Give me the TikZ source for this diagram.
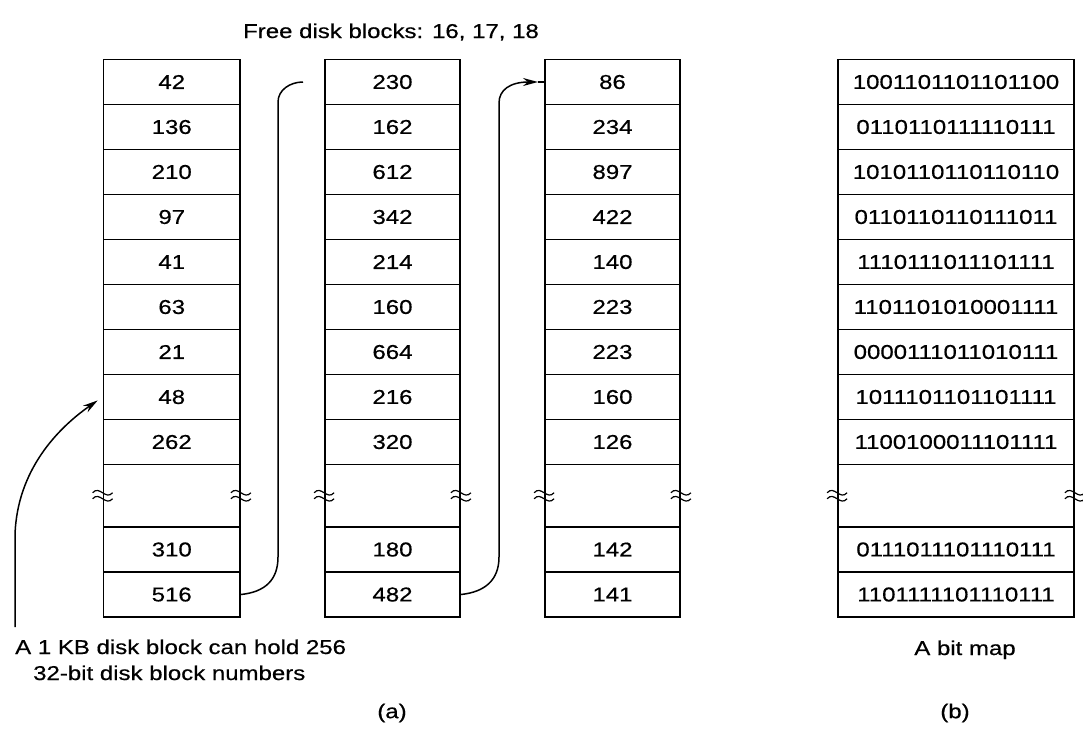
\documentclass[tikz,border=0pt]{standalone}
\usepackage{fontspec}
\setmainfont{Liberation Sans}[FakeStretch=1.2,FakeBold=0.5]
\usetikzlibrary{arrows.meta}
\begin{document}
\begin{tikzpicture}[x=1pt,y=-1pt,
  cell/.style={draw, line width=1.8pt, minimum height=45pt, inner sep=0pt, font=\fontsize{20}{24}\selectfont},
  lab/.style={inner sep=0pt, font=\fontsize{20}{24}\selectfont},
  link/.style={line width=1.5pt},
  tip/.style={-{Stealth[length=15pt,width=8pt]}},
  brk/.style={line width=1.2pt}]
\useasboundingbox (0,0) rectangle (1083,739);
% column a
\foreach \t [count=\i] in {42,136,210,97,41,63,21,48,262}
  \node[cell, minimum width=136.5pt] (a\i) at (171.75,{82+45*(\i-1)}) {\t};
\node[cell, minimum width=136.5pt, minimum height=62.5pt] (a10) at (171.75,495.75) {};
\node[cell, minimum width=136.5pt] (a11) at (171.75,549.5) {310};
\node[cell, minimum width=136.5pt] (a12) at (171.75,594.5) {516};
% column b
\foreach \t [count=\i] in {230,162,612,342,214,160,664,216,320}
  \node[cell, minimum width=135pt] (b\i) at (392.5,{82+45*(\i-1)}) {\t};
\node[cell, minimum width=135pt, minimum height=62.5pt] (b10) at (392.5,495.75) {};
\node[cell, minimum width=135pt] (b11) at (392.5,549.5) {180};
\node[cell, minimum width=135pt] (b12) at (392.5,594.5) {482};
% column c
\foreach \t [count=\i] in {86,234,897,422,140,223,223,160,126}
  \node[cell, minimum width=135pt] (c\i) at (612.5,{82+45*(\i-1)}) {\t};
\node[cell, minimum width=135pt, minimum height=62.5pt] (c10) at (612.5,495.75) {};
\node[cell, minimum width=135pt] (c11) at (612.5,549.5) {142};
\node[cell, minimum width=135pt] (c12) at (612.5,594.5) {141};
% column d (bit map)
\foreach \t [count=\i] in {1001101101101100,0110110111110111,1010110110110110,0110110110111011,1110111011101111,1101101010001111,0000111011010111,1011101101101111,1100100011101111}
  \node[cell, minimum width=236pt] (d\i) at (956,{82+45*(\i-1)}) {\t};
\node[cell, minimum width=236pt, minimum height=62.5pt] (d10) at (956,495.75) {};
\node[cell, minimum width=236pt] (d11) at (956,549.5) {0111011101110111};
\node[cell, minimum width=236pt] (d12) at (956,594.5) {1101111101110111};
% break marks
\foreach \n in {a10,b10,c10,d10}
  \foreach \s in {west,east}
    \foreach \dy in {-3,3}
      \draw[brk, shift={(\n.\s)}] (-10,\dy) .. controls (-3,\dy-8) and (3,\dy+8) .. (10,\dy);
% connectors
\coordinate (aend) at (303,82);
\draw[link] (a12.east) .. controls (265,592) and (278,580) .. (278,557) -- (278,102) .. controls (278,90) and (290,82) .. (aend);
\coordinate (btip) at (538,82);
\draw[link, tip] (b12.east) .. controls (485,592) and (499,580) .. (499,557) -- (499,103) .. controls (499,90) and (510,82) .. (btip);
\draw[link] (btip) -- (c1.west);
\coordinate (cstart) at (15,627);
\draw[link, tip, shorten >=6pt] (cstart) -- (15,535) .. controls (17,470) and (58,428) .. (a8.west);
% labels
\node[lab, anchor=base] (free) at (391,38) {Free disk blocks: 16, 17, 18};
\node[lab, anchor=base west] (note1) at (15,654) {A 1 KB disk block can hold 256};
\node[lab, anchor=base west] (note2) at (33,680) {32-bit disk block numbers};
\node[lab, anchor=base] (bitmap) at (965,655) {A bit map};
\node[lab] (capa) at (392,713) {(a)};
\node[lab] (capb) at (955,713) {(b)};
\end{tikzpicture}
\end{document}
